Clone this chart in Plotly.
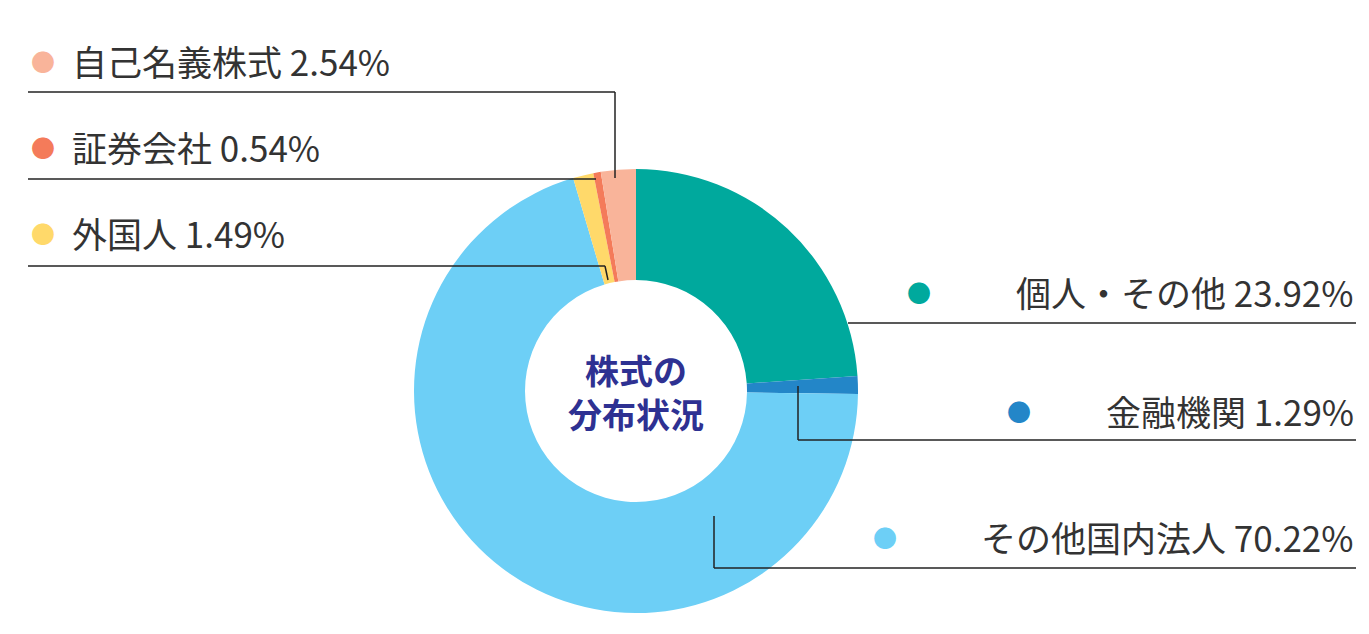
import plotly.graph_objects as go

W, H = 1369, 634

labels = ["個人・その他", "金融機関", "その他国内法人", "外国人", "証券会社", "自己名義株式"]
values = [23.92, 1.29, 70.22, 1.49, 0.54, 2.54]
colors = ["#00A99D", "#2386C8", "#6DCFF6", "#FFD96A", "#F47B5A", "#F9B49A"]


def px(x):
    return x / W


def py(y):
    return 1 - y / H


fig = go.Figure(go.Pie(
    labels=labels, values=values, hole=0.5, sort=False, direction="clockwise",
    rotation=0, marker=dict(colors=colors), textinfo="none",
    domain=dict(x=[px(406), px(850)], y=[py(605), py(161)]),
))

font = "Noto Sans CJK JP"
ann = []
# (label index, text x, text y, anchor)
label_pos = [
    (5, 62, 52, "left"),
    (4, 62, 138, "left"),
    (3, 62, 224, "left"),
    (0, 1348, 283, "right"),
    (1, 1348, 402, "right"),
    (2, 1348, 528, "right"),
]
for i, x, y, anchor in label_pos:
    txt = f"{labels[i]} {values[i]:.2f}%"
    ann.append(dict(x=px(x), y=py(y), xref="paper", yref="paper", text=txt,
                    showarrow=False, xanchor=anchor, yanchor="middle",
                    font=dict(family=font, size=35, color="#333333")))
    if anchor == "left":
        dx = 35
    else:
        dx = x - len(txt) * 33.5 - 2
    ann.append(dict(x=px(dx), y=py(y), xref="paper", yref="paper", text="●",
                    showarrow=False, xanchor="center", yanchor="middle",
                    font=dict(family=font, size=24, color=colors[i])))

ann.append(dict(x=px(628), y=py(383), xref="paper", yref="paper",
                text="<b>株式の<br>分布状況</b>", showarrow=False,
                font=dict(family=font, size=34, color="#2E3192")))

line_paths = [
    [(20, 84), (607, 84), (607, 170)],
    [(20, 171), (588, 171)],
    [(20, 258), (597, 258), (600, 272)],
    [(840, 315), (1348, 315)],
    [(790, 378), (790, 432), (1348, 432)],
    [(706, 508), (706, 560), (1348, 560)],
]
shapes = []
for path in line_paths:
    for (x0, y0), (x1, y1) in zip(path[:-1], path[1:]):
        shapes.append(dict(type="line", xref="paper", yref="paper",
                           x0=px(x0), y0=py(y0), x1=px(x1), y1=py(y1),
                           line=dict(color="#222222", width=1.5)))

fig.update_layout(width=W, height=H, margin=dict(l=0, r=0, t=0, b=0),
                  showlegend=False, paper_bgcolor="white",
                  annotations=ann, shapes=shapes)
fig.write_html("out.html")
